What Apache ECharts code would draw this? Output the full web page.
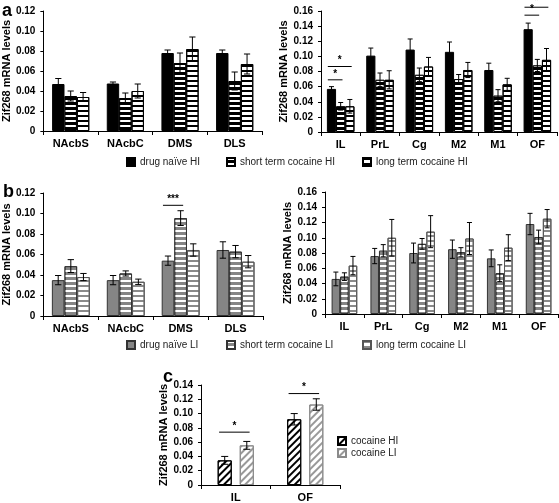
<!DOCTYPE html>
<html>
<head>
<meta charset="utf-8">
<script src="https://cdn.jsdelivr.net/npm/echarts@6/dist/echarts.min.js"></script>
<style>
html,body{margin:0;padding:0;background:#fff;}
#chart{width:559px;height:503px;}
</style>
</head>
<body>
<div id="chart"></div>
<script>
// ---------- categories ----------
const catStriatum = ['NAcbS', 'NAcbC', 'DMS', 'DLS'];
const catPFC = ['IL', 'PrL', 'Cg', 'M2', 'M1', 'OF'];
const catC = ['IL', 'OF'];

// ---------- panel a, striatum (HI) ----------
const aStrNaive = [0.047, 0.0475, 0.078, 0.078];
const aStrNaiveErr = [0.0055, 0.0015, 0.003, 0.003];
const aStrShort = [0.035, 0.033, 0.068, 0.050];
const aStrShortErr = [0.005, 0.005, 0.010, 0.009];
const aStrLong = [0.034, 0.040, 0.082, 0.067];
const aStrLongErr = [0.0045, 0.007, 0.012, 0.010];

// ---------- panel a, PFC (HI) ----------
const aPfcNaive = [0.057, 0.101, 0.109, 0.106, 0.082, 0.136];
const aPfcNaiveErr = [0.003, 0.010, 0.014, 0.013, 0.009, 0.008];
const aPfcShort = [0.034, 0.069, 0.0756, 0.070, 0.048, 0.088];
const aPfcShortErr = [0.005, 0.009, 0.009, 0.006, 0.008, 0.008];
const aPfcLong = [0.034, 0.069, 0.0866, 0.082, 0.063, 0.0954];
const aPfcLongErr = [0.009, 0.012, 0.012, 0.010, 0.008, 0.015];

// ---------- panel b, striatum (LI) ----------
const bStrNaive = [0.035, 0.035, 0.054, 0.0644];
const bStrNaiveErr = [0.0045, 0.0045, 0.0045, 0.008];
const bStrShort = [0.0487, 0.0415, 0.0955, 0.0628];
const bStrShortErr = [0.0063, 0.0025, 0.0072, 0.006];
const bStrLong = [0.038, 0.0334, 0.0644, 0.053];
const bStrLongErr = [0.0035, 0.0026, 0.006, 0.006];

// ---------- panel b, PFC (LI) ----------
const bPfcNaive = [0.046, 0.076, 0.080, 0.085, 0.073, 0.118];
const bPfcNaiveErr = [0.009, 0.010, 0.013, 0.012, 0.011, 0.014];
const bPfcShort = [0.049, 0.083, 0.092, 0.081, 0.0535, 0.101];
const bPfcShortErr = [0.005, 0.008, 0.007, 0.006, 0.011, 0.009];
const bPfcLong = [0.0635, 0.100, 0.108, 0.099, 0.087, 0.125];
const bPfcLongErr = [0.012, 0.024, 0.021, 0.021, 0.017, 0.012];

// ---------- panel c ----------
const cHI = [0.0345, 0.092];
const cHIErr = [0.0055, 0.008];
const cLI = [0.0555, 0.1127];
const cLIErr = [0.0055, 0.008];

// ---------- significance: [category, fromBar, toBar, y, label] ----------
const aPfcSig = [[0, 0, 1, 0.069, '*'], [0, 0, 2, 0.0866, '*'], [5, 0, 1, 0.1545, '*'], [5, 0, 2, 0.165, '*']];
const bStrSig = [[2, 0, 1, 0.108, '***']];
const cSig = [[0, 0, 1, 0.074, '*'], [1, 0, 1, 0.128, '*']];

// ---------- y-axis tick settings ----------
const yMaxStr = 0.12, yMaxPfc = 0.16, yMaxC = 0.14, yStep = 0.02;

// ---------- styling ----------
const FONT = 'Liberation Sans, Arial, sans-serif';
const yName = 'Zif268 mRNA levels';

const grids = [
  {left: 42, top: 11, width: 220, height: 120},   // a striatum
  {left: 321, top: 11, width: 236, height: 121},  // a PFC
  {left: 42, top: 193, width: 221, height: 123},  // b striatum
  {left: 325, top: 192, width: 233, height: 122}, // b PFC
  {left: 201, top: 385, width: 139, height: 103}  // c
];
const gaps = [
  {cat: 0.32, bar: 0},
  {cat: 0.30, bar: 0},
  {cat: 0.31, bar: 0},
  {cat: 0.34, bar: 0},
  {cat: 0.48, bar: 0.57}
];
const nBars = [3, 3, 3, 3, 2];

function xAxis(i, cats) {
  return {
    type: 'category', gridIndex: i, data: cats,
    axisLine: {lineStyle: {color: '#000', width: 1}},
    axisTick: {show: true, length: 4, lineStyle: {color: '#000'}},
    axisLabel: {color: '#000', fontFamily: FONT, fontWeight: 'bold', fontSize: 11, margin: 7}
  };
}
function yAxis(i, max, gap) {
  return {
    type: 'value', gridIndex: i, min: 0, max: max, interval: yStep,
    name: yName, nameLocation: 'middle', nameGap: gap,
    nameTextStyle: {color: '#000', fontFamily: FONT, fontWeight: 'bold', fontSize: 11},
    axisLine: {show: true, lineStyle: {color: '#000', width: 1}},
    axisTick: {show: true, length: 3, lineStyle: {color: '#000'}},
    splitLine: {show: false},
    axisLabel: {color: '#000', fontFamily: FONT, fontWeight: 'bold', fontSize: 10, margin: 8,
      formatter: v => (v === 0 ? '0' : v.toFixed(2))}
  };
}

function stripes(color, on, off, rot) {
  return {symbol: 'rect', symbolSize: 1, color: color, dashArrayX: [1, 0], dashArrayY: [on, off], rotation: rot || 0};
}

const styles = {
  naiveHI: {color: '#000', borderColor: '#000', borderWidth: 1},
  shortHI: {color: '#000', borderColor: '#000', borderWidth: 1, decal: stripes('#fff', 1.4, 2.6)},
  longHI: {color: '#fff', borderColor: '#000', borderWidth: 1, decal: stripes('#000', 1.2, 2.8)},
  naiveLI: {color: '#858585', borderColor: '#333', borderWidth: 1},
  shortLI: {color: '#858585', borderColor: '#333', borderWidth: 1, decal: stripes('#fff', 1.4, 2.6)},
  longLI: {color: '#fff', borderColor: '#555', borderWidth: 1, decal: stripes('#8a8a8a', 1.2, 2.8)},
  cHI: {color: '#fff', borderColor: '#000', borderWidth: 1, decal: stripes('#000', 1.6, 2.4, -Math.PI / 4)},
  cLI: {color: '#fff', borderColor: '#8a8a8a', borderWidth: 1, decal: stripes('#999', 1.6, 2.4, -Math.PI / 4)}
};

function barLayout(band, g, n, i) {
  const usable = band * (1 - gaps[g].cat);
  const bw = usable / (n + (n - 1) * gaps[g].bar);
  return {off: -usable / 2 + i * bw * (1 + gaps[g].bar) + bw / 2, bw: bw};
}

const series = [];
function addBars(g, name, vals, errs, idx, style) {
  series.push({
    type: 'bar', name: name, xAxisIndex: g, yAxisIndex: g, data: vals,
    barGap: (gaps[g].bar * 100) + '%', barCategoryGap: (gaps[g].cat * 100) + '%',
    itemStyle: style, emphasis: {disabled: true}, z: 2
  });
  series.push({
    type: 'custom', xAxisIndex: g, yAxisIndex: g, z: 5, silent: true,
    data: vals.map((v, k) => [k, v, errs[k]]),
    encode: {x: 0, y: 1},
    renderItem: function (params, api) {
      const c = api.value(0), v = api.value(1), e = api.value(2);
      const band = api.size([1, 0])[0];
      const L = barLayout(band, g, nBars[g], idx);
      const x = api.coord([c, v])[0] + L.off;
      const yT = api.coord([c, v + e])[1], yB = api.coord([c, v - e])[1];
      const cap = Math.max(5, L.bw * 0.5) / 2;
      const ls = {stroke: '#000', lineWidth: 1};
      return {type: 'group', children: [
        {type: 'line', shape: {x1: x, y1: yT, x2: x, y2: yB}, style: ls},
        {type: 'line', shape: {x1: x - cap, y1: yT, x2: x + cap, y2: yT}, style: ls},
        {type: 'line', shape: {x1: x - cap, y1: yB, x2: x + cap, y2: yB}, style: ls}
      ]};
    }
  });
}
function addSig(g, sig) {
  series.push({
    type: 'custom', xAxisIndex: g, yAxisIndex: g, z: 6, silent: true, clip: false,
    data: sig.map(s => [s[0], s[3], s[1], s[2], s[4]]),
    encode: {x: 0, y: 1},
    renderItem: function (params, api) {
      const c = api.value(0), y = api.value(1);
      const band = api.size([1, 0])[0];
      const A = barLayout(band, g, nBars[g], api.value(2));
      const B = barLayout(band, g, nBars[g], api.value(3));
      const cx = api.coord([c, y]);
      const x1 = cx[0] + A.off - A.bw * 0.4, x2 = cx[0] + B.off + B.bw * 0.2;
      const label = sig[params.dataIndex][4];
      return {type: 'group', children: [
        {type: 'line', shape: {x1: x1, y1: cx[1], x2: x2, y2: cx[1]}, style: {stroke: '#000', lineWidth: 1}},
        {type: 'text', style: {text: label, x: (x1 + x2) / 2, y: cx[1] - 1, align: 'center', verticalAlign: 'bottom',
          font: 'bold 10px ' + FONT, fill: '#000'}}
      ]};
    }
  });
}

addBars(0, 'drug naïve HI', aStrNaive, aStrNaiveErr, 0, styles.naiveHI);
addBars(0, 'short term cocaine HI', aStrShort, aStrShortErr, 1, styles.shortHI);
addBars(0, 'long term cocaine HI', aStrLong, aStrLongErr, 2, styles.longHI);
addBars(1, 'drug naïve HI', aPfcNaive, aPfcNaiveErr, 0, styles.naiveHI);
addBars(1, 'short term cocaine HI', aPfcShort, aPfcShortErr, 1, styles.shortHI);
addBars(1, 'long term cocaine HI', aPfcLong, aPfcLongErr, 2, styles.longHI);
addSig(1, aPfcSig);
addBars(2, 'drug naïve LI', bStrNaive, bStrNaiveErr, 0, styles.naiveLI);
addBars(2, 'short term cocaine LI', bStrShort, bStrShortErr, 1, styles.shortLI);
addBars(2, 'long term cocaine LI', bStrLong, bStrLongErr, 2, styles.longLI);
addSig(2, bStrSig);
addBars(3, 'drug naïve LI', bPfcNaive, bPfcNaiveErr, 0, styles.naiveLI);
addBars(3, 'short term cocaine LI', bPfcShort, bPfcShortErr, 1, styles.shortLI);
addBars(3, 'long term cocaine LI', bPfcLong, bPfcLongErr, 2, styles.longLI);
addBars(4, 'cocaine HI', cHI, cHIErr, 0, styles.cHI);
addBars(4, 'cocaine LI', cLI, cLIErr, 1, styles.cLI);
addSig(4, cSig);

function legend(name, left, top) {
  return {
    data: [name], left: left, top: top, padding: 0, itemWidth: 8, itemHeight: 8, itemGap: 0,
    selectedMode: false, icon: 'rect',
    textStyle: {fontFamily: FONT, fontSize: 10, color: '#222', padding: [0, 0, 0, 0]}
  };
}

const option = {
  animation: false,
  backgroundColor: '#fff',
  grid: grids,
  xAxis: [xAxis(0, catStriatum), xAxis(1, catPFC), xAxis(2, catStriatum), xAxis(3, catPFC), xAxis(4, catC)],
  yAxis: [yAxis(0, yMaxStr, 29), yAxis(1, yMaxPfc, 28), yAxis(2, yMaxStr, 29), yAxis(3, yMaxPfc, 29), yAxis(4, yMaxC, 29)],
  legend: [
    legend('drug naïve HI', 126, 157),
    legend('short term cocaine HI', 226, 157),
    legend('long term cocaine HI', 362, 157),
    legend('drug naïve LI', 126, 340),
    legend('short term cocaine LI', 226, 340),
    legend('long term cocaine LI', 362, 340),
    {data: ['cocaine HI', 'cocaine LI'], orient: 'vertical', left: 337, top: 435, padding: 0,
      itemWidth: 8, itemHeight: 8, itemGap: 0, selectedMode: false, icon: 'rect',
      textStyle: {fontFamily: FONT, fontSize: 10, color: '#222', lineHeight: 12}}
  ],
  graphic: [
    {type: 'text', left: 2, top: 2, style: {text: 'a', font: 'bold 18px ' + FONT, fill: '#000'}},
    {type: 'text', left: 3, top: 183, style: {text: 'b', font: 'bold 18px ' + FONT, fill: '#000'}},
    {type: 'text', left: 163, top: 368, style: {text: 'c', font: 'bold 18px ' + FONT, fill: '#000'}}
  ],
  series: series
};

const chart = echarts.init(document.getElementById('chart'), null, {renderer: 'canvas'});
chart.setOption(option);
</script>
</body>
</html>
